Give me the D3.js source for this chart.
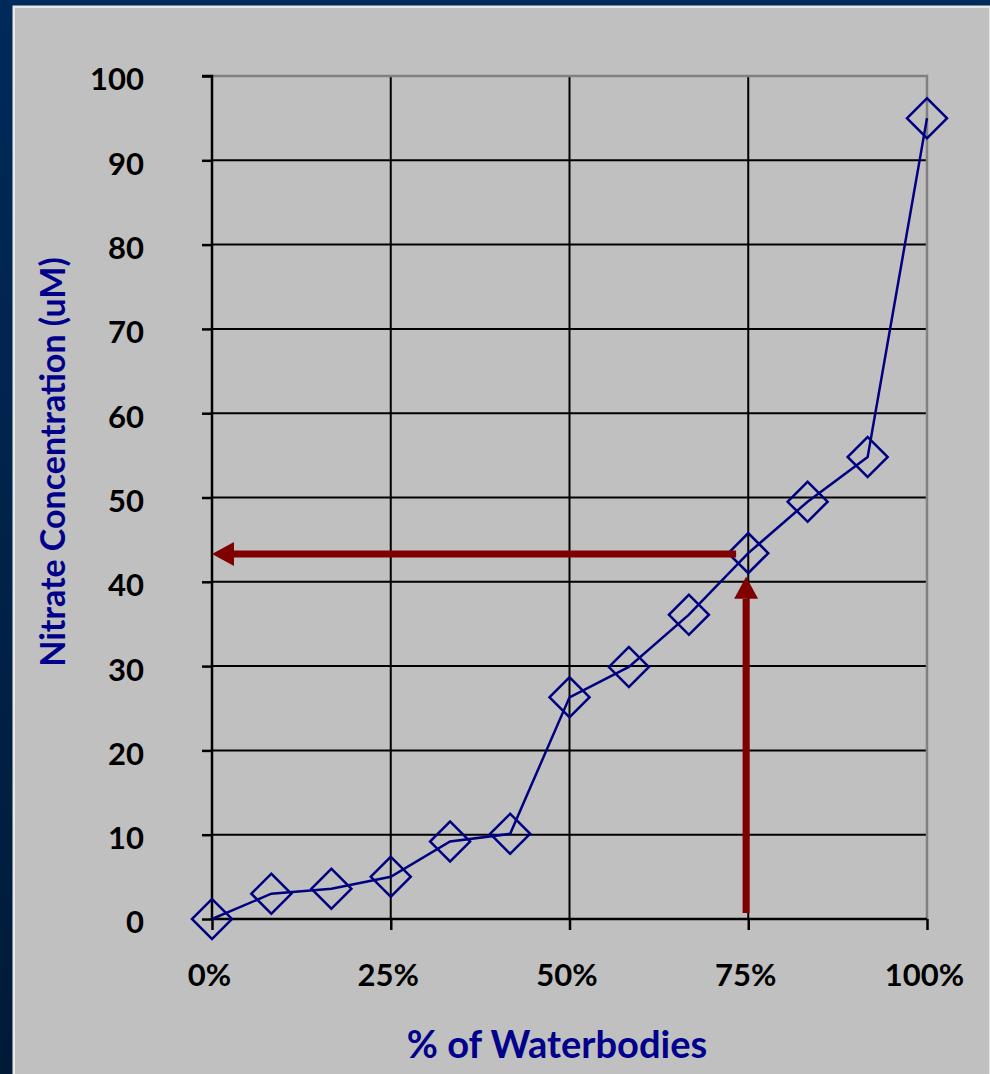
<!DOCTYPE html>
<html>
<head>
<meta charset="utf-8">
<script src="https://cdn.jsdelivr.net/npm/d3@7"></script>
<style>
  html, body { margin: 0; padding: 0; background: #002a55; }
  svg { display: block; }
</style>
</head>
<body>
<svg id="chart" width="990" height="1074"></svg>
<script>
// Share of waterbodies (%) and nitrate concentration (uM)
const pctWaterbodies = [0, 8.3, 16.7, 25, 33.3, 41.7, 50, 58.3, 66.7, 75, 83.3, 91.7, 100];
const nitrateUM = [0, 3.0, 3.6, 5.0, 9.2, 10.1, 26.3, 29.9, 36.1, 43.4, 49.5, 54.8, 95.0];

// Axis ticks
const yTicks = [0, 10, 20, 30, 40, 50, 60, 70, 80, 90, 100];
const xTicks = [0, 25, 50, 75, 100];
const xTickLabels = ["0%", "25%", "50%", "75%", "100%"];

// Reading at the 75th percentile: horizontal arrow to the y axis, vertical arrow up from the x axis
const readLevel = [43.3];
const readPctHoriz = [73.3, 0];
const readPctVert = [74.7];
const readLevelVert = [0.7, 40.6];

const svg = d3.select("#chart");
const W = 990, H = 1074;
const FONT = "Lato, 'Open Sans', sans-serif";

// Backdrop
const defs = svg.append("defs");
const bg = defs.append("linearGradient").attr("id", "bg").attr("x1", 0).attr("y1", 0).attr("x2", 0).attr("y2", 1);
bg.append("stop").attr("offset", "0%").attr("stop-color", "#002a5a");
bg.append("stop").attr("offset", "100%").attr("stop-color", "#001b38");
svg.append("rect").attr("width", W).attr("height", H).attr("fill", "url(#bg)");
svg.append("rect").attr("x", 12.5).attr("y", 5.5).attr("width", W - 12).attr("height", H).attr("fill", "#e8e8e8");
svg.append("rect").attr("x", 15).attr("y", 8).attr("width", W - 16).attr("height", H).attr("fill", "#c0c0c0");

const plot = { left: 212, right: 927, top: 76, bottom: 919 };

const x = d3.scaleLinear().domain([0, 100]).range([plot.left, plot.right]);
const y = d3.scaleLinear().domain([0, 100]).range([plot.bottom, plot.top]);

const g = svg.append("g");

// Horizontal gridlines
g.append("g").selectAll("line")
  .data(yTicks.filter(d => d > 0 && d < 100))
  .join("line")
  .attr("x1", plot.left).attr("x2", plot.right)
  .attr("y1", d => y(d)).attr("y2", d => y(d))
  .attr("stroke", "#000").attr("stroke-width", 2);

// Vertical gridlines
g.append("g").selectAll("line")
  .data(xTicks.filter(d => d > 0 && d < 100))
  .join("line")
  .attr("x1", d => x(d)).attr("x2", d => x(d))
  .attr("y1", plot.top).attr("y2", plot.bottom)
  .attr("stroke", "#000").attr("stroke-width", 2);

// Plot frame top and right
g.append("path")
  .attr("d", `M${plot.left},${y(100)}H${x(100)}V${plot.bottom}`)
  .attr("fill", "none").attr("stroke", "#808080").attr("stroke-width", 2.5);

// Y axis
const yAxis = d3.axisLeft(y).tickValues(yTicks).tickSize(10).tickPadding(58).tickFormat(d3.format("d"));
const yG = g.append("g").attr("transform", `translate(${plot.left},0)`).call(yAxis);
yG.select(".domain").attr("stroke", "#000").attr("stroke-width", 2.5).attr("d", `M-10,${plot.top}H0V${plot.bottom}`);
yG.selectAll(".tick line").attr("stroke", "#000").attr("stroke-width", 2.5);
yG.selectAll(".tick text")
  .attr("fill", "#000")
  .attr("font-family", FONT)
  .attr("font-weight", "bold")
  .attr("font-size", 31)
  .attr("dy", "0.45em");

// X axis
const xAxis = d3.axisBottom(x).tickValues(xTicks).tickSize(11).tickPadding(34)
  .tickFormat((d, i) => xTickLabels[i]);
const xG = g.append("g").attr("transform", `translate(0,${plot.bottom})`).call(xAxis);
xG.select(".domain").attr("stroke", "#000").attr("stroke-width", 2.5).attr("d", `M${plot.left},0H${plot.right}`);
xG.selectAll(".tick line").attr("stroke", "#000").attr("stroke-width", 2.5);
xG.selectAll(".tick text")
  .attr("fill", "#000")
  .attr("font-family", FONT)
  .attr("font-weight", "bold")
  .attr("font-size", 31)
  .attr("dx", -3);

// Axis titles
svg.append("text")
  .attr("transform", `translate(65,462) rotate(-90)`)
  .attr("text-anchor", "middle")
  .attr("fill", "#00008b")
  .attr("font-family", FONT)
  .attr("font-weight", "bold")
  .attr("font-size", 34)
  .text("Nitrate Concentration (uM)");

svg.append("text")
  .attr("x", 557).attr("y", 1058)
  .attr("text-anchor", "middle")
  .attr("fill", "#00008b")
  .attr("font-family", FONT)
  .attr("font-weight", "bold")
  .attr("font-size", 38)
  .text("% of Waterbodies");

// Series line and diamond markers
const pts = pctWaterbodies.map((p, i) => [p, nitrateUM[i]]);
g.append("path")
  .datum(pts)
  .attr("d", d3.line().x(d => x(d[0])).y(d => y(d[1])))
  .attr("fill", "none").attr("stroke", "#000080").attr("stroke-width", 2.5);

const diamond = d3.symbol().type(d3.symbolSquare).size(800);
g.append("g").selectAll("path")
  .data(pts)
  .join("path")
  .attr("d", diamond)
  .attr("transform", d => `translate(${x(d[0])},${y(d[1])}) rotate(45)`)
  .attr("fill", "none").attr("stroke", "#000080").attr("stroke-width", 2.5);

// Reading arrows
const arrowColor = "#800000";
function arrow(x1, y1, x2, y2) {
  const ang = Math.atan2(y2 - y1, x2 - x1);
  const headLen = 22, headHalf = 12, shaft = 7;
  const bx = x2 - headLen * Math.cos(ang), by = y2 - headLen * Math.sin(ang);
  const nx = -Math.sin(ang), ny = Math.cos(ang);
  g.append("line")
    .attr("x1", x1).attr("y1", y1).attr("x2", bx).attr("y2", by)
    .attr("stroke", arrowColor).attr("stroke-width", shaft);
  g.append("path")
    .attr("d", `M${x2},${y2}L${bx + nx * headHalf},${by + ny * headHalf}L${bx - nx * headHalf},${by - ny * headHalf}Z`)
    .attr("fill", arrowColor);
}
arrow(x(readPctHoriz[0]), y(readLevel[0]), x(readPctHoriz[1]), y(readLevel[0]));
arrow(x(readPctVert[0]), y(readLevelVert[0]), x(readPctVert[0]), y(readLevelVert[1]));
</script>
</body>
</html>
